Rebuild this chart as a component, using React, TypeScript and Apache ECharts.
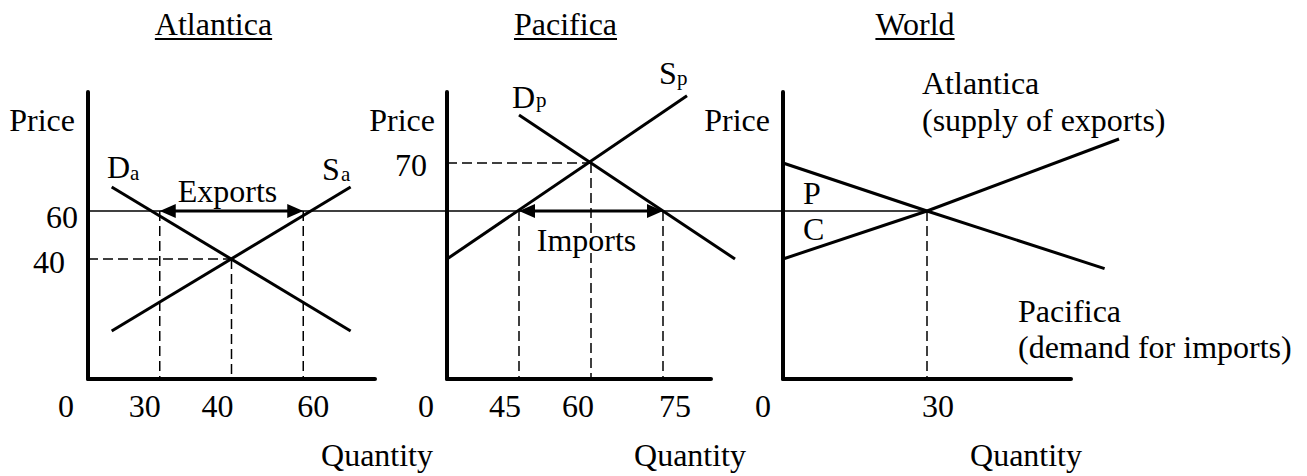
import React, { useEffect, useRef } from "react";
import * as echarts from "echarts";

// ---------------- data ----------------
const worldPrice = 60;

// Atlantica: quantity axis drawn in equally spaced label slots (diagram not to scale)
const atlanticaQtyTicks = [0, 1, 2, 3];
const atlanticaQtyLabels = ["0", "30", "40", "60"];
const atlanticaPriceTicks = [60, 40];
const atlanticaPriceLabels = ["60", "40"];
const atlanticaDemand = [[0.33, 70], [3.66, 10]];
const atlanticaSupply = [[0.33, 10], [3.66, 70]];
const atlanticaAutarky = [2, 40];
const atlanticaExports = [1, 3, worldPrice];
const atlanticaWorldLine = [[0, worldPrice], [5, worldPrice]];

// Pacifica
const pacificaQtyTicks = [30, 45, 60, 75];
const pacificaQtyLabels = ["0", "45", "60", "75"];
const pacificaPriceTicks = [70];
const pacificaPriceLabels = ["70"];
const pacificaDemand = [[45, 80], [90, 50]];
const pacificaSupply = [[30, 50], [80, 84]];
const pacificaAutarky = [60, 70];
const pacificaImports = [45, 75, worldPrice];
const pacificaWorldLine = [[30, worldPrice], [100, worldPrice]];

// World
const worldQtyTicks = [0, 30];
const worldQtyLabels = ["0", "30"];
const worldExportSupply = [[0, 50], [30, 60], [70, 75]];
const worldImportDemand = [[0, 70], [30, 60], [67, 48]];
const worldEquilibrium = [30, worldPrice];
const worldLine = [[0, worldPrice], [30, worldPrice]];

// ---------------- styling helpers ----------------
const FONT = "'Liberation Serif', 'Times New Roman', serif";
const FS = 32;
const SUB = 21;

const toSegments = (pts: number[][]) =>
  pts.slice(1).map((p, i) => [pts[i][0], pts[i][1], p[0], p[1]]);

const segSeries = (g: number, pts: number[][], width: number, dash?: number[]) => ({
  type: "custom",
  xAxisIndex: g,
  yAxisIndex: g,
  data: toSegments(pts),
  encode: { x: [0, 2], y: [1, 3] },
  clip: false,
  silent: true,
  z: dash ? 3 : 5,
  renderItem: (_p: any, api: any) => {
    const a = api.coord([api.value(0), api.value(1)]);
    const b = api.coord([api.value(2), api.value(3)]);
    return {
      type: "line",
      shape: { x1: a[0], y1: a[1], x2: b[0], y2: b[1] },
      style: dash
        ? { stroke: "#000", lineWidth: width, lineDash: dash, lineCap: "butt" }
        : { stroke: "#000", lineWidth: width, lineCap: "butt" },
    };
  },
});
const solid = (g: number, pts: number[][], width: number) => segSeries(g, pts, width);
const dashed = (g: number, pts: number[][]) => segSeries(g, pts, 1.5, [10, 5]);

const arrowSeries = (g: number, item: number[]) => ({
  type: "custom",
  xAxisIndex: g,
  yAxisIndex: g,
  data: [item],
  encode: { x: [0, 1], y: 2 },
  clip: false,
  silent: true,
  z: 6,
  renderItem: (_p: any, api: any) => {
    const a = api.coord([api.value(0), api.value(2)]);
    const b = api.coord([api.value(1), api.value(2)]);
    const L = 16;
    const H = 7;
    return {
      type: "group",
      children: [
        {
          type: "line",
          shape: { x1: a[0] + L - 1, y1: a[1], x2: b[0] - L + 1, y2: b[1] },
          style: { stroke: "#000", lineWidth: 3 },
        },
        {
          type: "polygon",
          shape: { points: [[a[0], a[1]], [a[0] + L, a[1] - H], [a[0] + L, a[1] + H]] },
          style: { fill: "#000" },
        },
        {
          type: "polygon",
          shape: { points: [[b[0], b[1]], [b[0] - L, b[1] - H], [b[0] - L, b[1] + H]] },
          style: { fill: "#000" },
        },
      ],
    };
  },
});

// per-label horizontal nudges (px) for x tick labels
const xNudge = (d: number) => (d < 0 ? [0, -2 * d, 0, 0] : [0, 0, 0, 2 * d]);

const xAxisCfg = (g: number, min: number, max: number, ticks: number[], labels: string[], nudges: number[]) => {
  const rich: any = {};
  nudges.forEach((d, i) => {
    rich["t" + i] = { fontFamily: FONT, fontSize: FS, color: "#000", padding: xNudge(d) };
  });
  return {
    gridIndex: g,
    type: "value",
    min,
    max,
    axisLine: { onZero: false, lineStyle: { color: "#000", width: 4 } },
    axisTick: { show: false },
    splitLine: { show: false },
    axisLabel: {
      customValues: ticks,
      margin: 11,
      fontFamily: FONT,
      fontSize: FS,
      color: "#000",
      formatter: (v: number) => {
        const i = ticks.indexOf(v);
        return i < 0 ? "" : `{t${i}|${labels[i]}}`;
      },
      rich,
    },
  };
};

const yAxisCfg = (
  g: number,
  min: number,
  max: number,
  ticks: number[],
  labels: string[],
  pads: number[][]
) => {
  const rich: any = {};
  pads.forEach((p, i) => {
    rich["t" + i] = { fontFamily: FONT, fontSize: FS, color: "#000", padding: p };
  });
  return {
    gridIndex: g,
    type: "value",
    min,
    max,
    axisLine: { onZero: false, lineStyle: { color: "#000", width: 4 } },
    axisTick: { show: false },
    splitLine: { show: false },
    axisLabel: {
      show: ticks.length > 0,
      customValues: ticks,
      margin: 10,
      fontFamily: FONT,
      fontSize: FS,
      color: "#000",
      formatter: (v: number) => {
        const i = ticks.indexOf(v);
        return i < 0 ? "" : `{t${i}|${labels[i]}}`;
      },
      rich,
    },
  };
};

const txt = (text: string, x: number, y: number, align = "left", size = FS) => ({
  type: "text",
  x,
  y,
  silent: true,
  style: {
    text,
    fill: "#000",
    fontFamily: FONT,
    fontSize: size,
    textAlign: align,
    textVerticalAlign: "middle",
    align,
    verticalAlign: "middle",
  },
});

const measure = (t: string) => {
  const c = document.createElement("canvas").getContext("2d")!;
  c.font = `${FS}px "Liberation Serif"`;
  return c.measureText(t).width;
};

const title = (t: string, cx: number) => {
  const w = measure(t);
  return [
    txt(t, cx, 24, "center"),
    {
      type: "line",
      silent: true,
      shape: { x1: cx - w / 2, y1: 39, x2: cx + w / 2, y2: 39 },
      style: { stroke: "#000", lineWidth: 2 },
    },
  ];
};

function buildOption() {
  return {
    animation: false,
    backgroundColor: "#fff",
    grid: [
      { left: 88, top: 92, width: 287, height: 287 },
      { left: 447, top: 92, width: 264, height: 287 },
      { left: 783, top: 92, width: 288, height: 287 },
    ],
    xAxis: [
      xAxisCfg(0, 0, 4, atlanticaQtyTicks, atlanticaQtyLabels, [-22, -15, -14, 10]),
      xAxisCfg(1, 30, 85, pacificaQtyTicks, pacificaQtyLabels, [-21, -14, -13, 12]),
      xAxisCfg(2, 0, 60, worldQtyTicks, worldQtyLabels, [-20, 11]),
    ],
    yAxis: [
      yAxisCfg(0, -10, -10 + 287 / 2.4, atlanticaPriceTicks, atlanticaPriceLabels, [
        [12, 0, 0, 0],
        [6, 13, 0, 0],
      ]),
      yAxisCfg(1, 25, 25 + 287 / 4.8, pacificaPriceTicks, pacificaPriceLabels, [[4, 10, 0, 0]]),
      yAxisCfg(2, 25, 25 + 287 / 4.8, [], [], []),
    ],
    series: [
      // world price line across the panels
      solid(0, atlanticaWorldLine, 1.6),
      solid(1, pacificaWorldLine, 1.6),
      solid(2, worldLine, 1.6),
      // Atlantica
      dashed(0, [[atlanticaExports[0], worldPrice], [atlanticaExports[0], -10]]),
      dashed(0, [[atlanticaAutarky[0], atlanticaAutarky[1]], [atlanticaAutarky[0], -10]]),
      dashed(0, [[atlanticaExports[1], worldPrice], [atlanticaExports[1], -10]]),
      dashed(0, [[0, atlanticaAutarky[1]], [atlanticaAutarky[0], atlanticaAutarky[1]]]),
      solid(0, atlanticaDemand, 3),
      solid(0, atlanticaSupply, 3),
      arrowSeries(0, atlanticaExports),
      // Pacifica
      dashed(1, [[pacificaImports[0], worldPrice], [pacificaImports[0], 25]]),
      dashed(1, [[pacificaAutarky[0], pacificaAutarky[1]], [pacificaAutarky[0], 25]]),
      dashed(1, [[pacificaImports[1], worldPrice], [pacificaImports[1], 25]]),
      dashed(1, [[30, pacificaAutarky[1]], [pacificaAutarky[0], pacificaAutarky[1]]]),
      solid(1, pacificaDemand, 3),
      solid(1, pacificaSupply, 3),
      arrowSeries(1, pacificaImports),
      // World
      dashed(2, [[worldEquilibrium[0], worldEquilibrium[1]], [worldEquilibrium[0], 25]]),
      solid(2, worldImportDemand, 3),
      solid(2, worldExportSupply, 3),
    ],
    graphic: [
      ...title("Atlantica", 213.5),
      ...title("Pacifica", 565.5),
      ...title("World", 915),
      txt("Price", 75, 120, "right"),
      txt("Price", 435, 120, "right"),
      txt("Price", 770, 120, "right"),
      txt("Quantity", 377, 455, "center"),
      txt("Quantity", 690, 455, "center"),
      txt("Quantity", 1026, 455, "center"),
      txt("D", 107, 167),
      txt("a", 130, 173, "left", SUB),
      txt("S", 322, 169),
      txt("a", 341, 174, "left", SUB),
      txt("Exports", 227.5, 190.5, "center"),
      txt("D", 512, 96.5),
      txt("p", 536, 100, "left", SUB),
      txt("S", 659, 73),
      txt("p", 677, 78, "left", SUB),
      txt("Imports", 586.5, 240, "center"),
      txt("Atlantica", 922, 83),
      txt("(supply of exports)", 922, 119.5),
      txt("Pacifica", 1018, 311),
      txt("(demand for imports)", 1018, 347),
      txt("P", 803, 193),
      txt("C", 803, 229),
    ],
  };
}

export default function App() {
  const ref = useRef<HTMLDivElement>(null);
  useEffect(() => {
    document.body.style.margin = "0";
    const chart = echarts.init(ref.current!, null, { renderer: "svg" });
    chart.setOption(buildOption() as any);
    return () => chart.dispose();
  }, []);
  return <div ref={ref} style={{ width: 1307, height: 476 }} />;
}
